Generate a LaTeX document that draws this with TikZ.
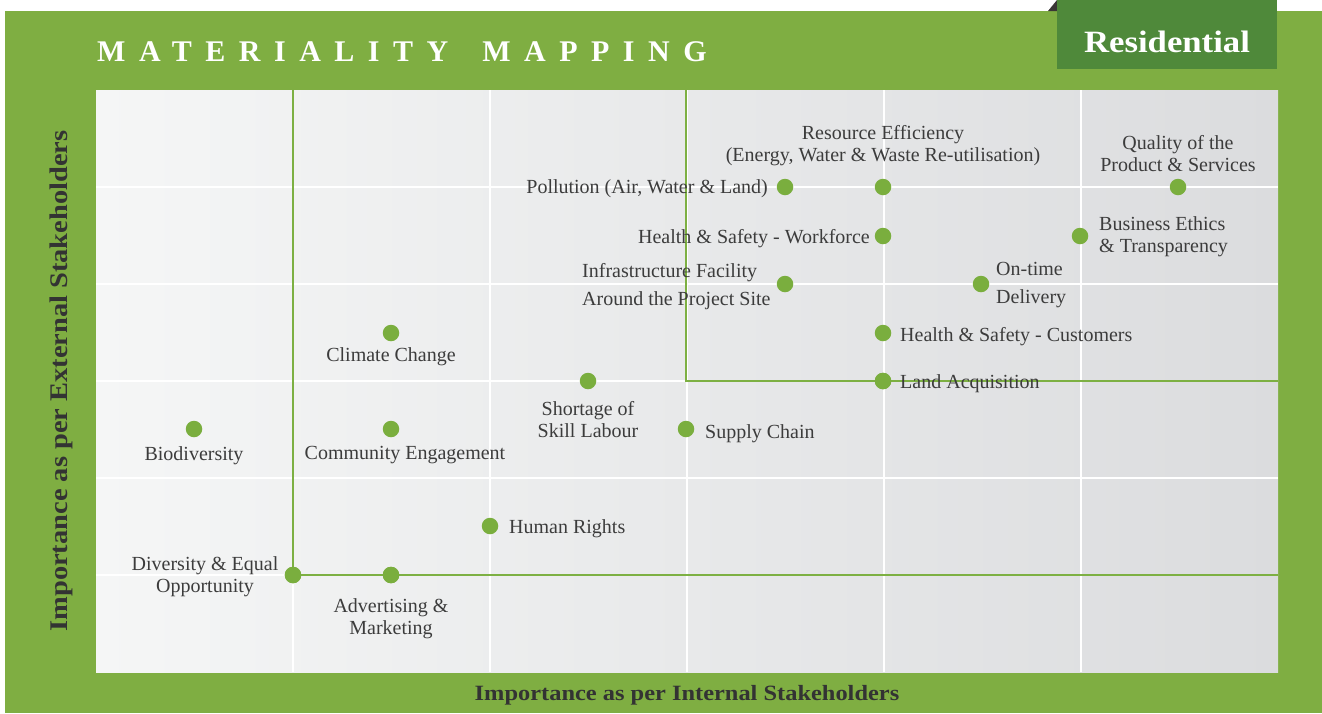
\documentclass[tikz,border=0pt]{standalone}
\usepackage{fontspec}
\setmainfont{Liberation Serif}
\newfontfamily\bst[FakeStretch=1.12]{Liberation Serif}
\newfontfamily\ttlfont[LetterSpace=45]{Liberation Serif}
\definecolor{outg}{HTML}{7FAE42}
\definecolor{resg}{HTML}{4F893A}
\definecolor{dotg}{HTML}{7AAE3E}
\definecolor{lineg}{HTML}{7DB043}
\definecolor{txt}{HTML}{3C3C3C}
\definecolor{axtxt}{HTML}{333333}
\definecolor{plotL}{HTML}{F5F6F6}
\definecolor{plotR}{HTML}{DBDCDE}
\definecolor{tabg}{HTML}{3A3636}
\begin{document}
\begin{tikzpicture}[x=1pt,y=-1pt,
  lbl/.style={inner sep=0pt, text=txt, font=\fontsize{20}{22}\selectfont},
  dot/.style={circle, fill=dotg, inner sep=0pt, minimum size=16.5pt},
  gline/.style={draw=lineg, line width=2.4pt},
  gridline/.style={draw=white, line width=1.6pt},
  axlab/.style={inner sep=0pt, text=axtxt}]
\useasboundingbox (0,0) rectangle (1322,713);
% frame and plot area
\fill[outg] (5,11) rectangle (1322,713);
\shade[left color=plotL, right color=plotR] (96,90) rectangle (1278,672);
\foreach \i in {1,...,5} {
  \draw[gridline] ({96+197*\i},90) -- ({96+197*\i},672);
  \draw[gridline] (96,{90+97*\i}) -- (1278,{90+97*\i});
}
% tab
\fill[tabg] (1048,11) -- (1057,0) -- (1057,11) -- cycle;
\node[fill=resg, minimum width=220pt, minimum height=69pt, inner sep=0pt, anchor=north west] (resbox) at (1057,0) {};
\node[inner sep=0pt, text=white, anchor=base, font=\bst\bfseries\fontsize{31}{31}\selectfont] (restxt) at (1167,52) {Residential};
% title
\node[inner sep=0pt, text=white, anchor=base west, font=\ttlfont\bfseries\fontsize{30}{30}\selectfont] (title) at (97,61) {MATERIALITY\hspace{34pt}MAPPING};
% axis labels
\node[axlab, anchor=base, font=\bst\bfseries\fontsize{21.8}{22}\selectfont] (xlab) at (687,700) {Importance as per Internal Stakeholders};
\node[axlab, anchor=base, rotate=90, font=\bst\bfseries\fontsize{25.4}{26}\selectfont] (ylab) at (67,381) {Importance as per External Stakeholders};
% dots
\node[dot] (poll) at (785,187) {};
\node[dot] (resef) at (883,187) {};
\node[dot] (qual) at (1178,187) {};
\node[dot] (hsw) at (883,236) {};
\node[dot] (bus) at (1080,236) {};
\node[dot] (infra) at (785,284) {};
\node[dot] (ontime) at (981,284) {};
\node[dot] (hsc) at (883,333) {};
\node[dot] (clim) at (391,333) {};
\node[dot] (land) at (883,381) {};
\node[dot] (short) at (588,381) {};
\node[dot] (biod) at (194,429) {};
\node[dot] (comm) at (391,429) {};
\node[dot] (supply) at (686,429) {};
\node[dot] (human) at (490,526) {};
\node[dot] (div) at (293,575) {};
\node[dot] (adv) at (391,575) {};
% green boundary lines
\coordinate (v1top) at (293,90);
\coordinate (h1end) at (1278,575);
\coordinate (v2top) at (686,90);
\coordinate (corner2) at (686,381);
\coordinate (h2end) at (1278,381);
\draw[gline] (v1top) -- (div.center) -- (adv.center) -- (h1end);
\draw[gline] (v2top) -- (corner2) -- (land.center) -- (h2end);
% dots on the lines stay on top
\foreach \n in {div,adv,land} { \fill[dotg] (\n.center) circle (8.25pt); }
% labels
\node[lbl, align=center] (resefL) at (883,146) {Resource Efficiency\\(Energy, Water \& Waste Re-utilisation)};
\node[lbl, align=center] (qualL) at (1178,154) {Quality of the\\Product \& Services};
\node[lbl, anchor=east] (pollL) at (768,189) {Pollution (Air, Water \& Land)};
\node[lbl, anchor=east] (hswL) at (870,239) {Health \& Safety - Workforce};
\node[lbl, anchor=west, align=left] (busL) at (1099,236.5) {Business Ethics\\\& Transparency};
\node[lbl, anchor=west, align=left] (infraL) at (582,287) {Infrastructure Facility\\[6pt]Around the Project Site};
\node[lbl, anchor=west, align=left] (ontimeL) at (996,285) {On-time\\[6pt]Delivery};
\node[lbl, anchor=west] (hscL) at (900,337) {Health \& Safety - Customers};
\node[lbl] (climL) at (391,357) {Climate Change};
\node[lbl, anchor=west] (landL) at (900,384) {Land Acquisition};
\node[lbl, align=center] (shortL) at (588,420) {Shortage of\\Skill Labour};
\node[lbl] (biodL) at (194,456) {Biodiversity};
\node[lbl] (commL) at (405,455) {Community Engagement};
\node[lbl, anchor=west] (supplyL) at (705,434) {Supply Chain};
\node[lbl, anchor=west] (humanL) at (509,529) {Human Rights};
\node[lbl, align=center] (divL) at (205,577) {Diversity \& Equal\\Opportunity};
\node[lbl, align=center] (advL) at (391,619) {Advertising \&\\Marketing};
\end{tikzpicture}
\end{document}
